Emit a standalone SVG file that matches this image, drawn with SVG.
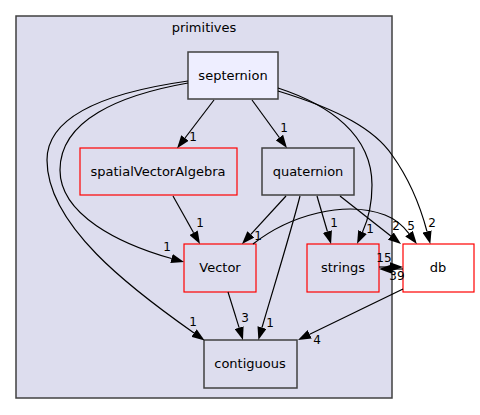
<svg xmlns="http://www.w3.org/2000/svg" width="480" height="415" viewBox="0 0 480 415">
<style>
text{font-family:"DejaVu Sans","Liberation Sans",sans-serif;fill:#000}
.n{font-size:13px;text-anchor:middle}
.l{font-size:12px;text-anchor:middle}
.e{fill:none;stroke:#000;stroke-width:1.2}
.g{fill:#ddddee;stroke:#404040;stroke-width:1.5}
.r{fill:#ddddee;stroke:#ff0000;stroke-width:1.2}
</style>
<defs>
<marker id="a" viewBox="0 0 13 9.4" markerWidth="13" markerHeight="9.4" refX="0" refY="4.7" orient="auto" markerUnits="userSpaceOnUse">
<path d="M0,0 L13,4.7 L0,9.4 z" fill="#000"/>
</marker>
</defs>
<g id="cluster_primitives">
<rect x="16" y="16" width="376" height="382" fill="#ddddee" stroke="#404040" stroke-width="1.5"/>
<text class="n" x="204" y="32">primitives</text>
</g>
<g id="septernion">
<rect x="188" y="52" width="90" height="47" fill="#eeeeff" stroke="#404040" stroke-width="1.5"/>
<text class="n" x="233" y="80">septernion</text>
</g>
<g id="spatialVectorAlgebra">
<rect class="r" x="80" y="148" width="157" height="47"/>
<text class="n" x="158" y="176">spatialVectorAlgebra</text>
</g>
<g id="quaternion">
<rect class="g" x="262" y="148" width="92" height="47"/>
<text class="n" x="308" y="176">quaternion</text>
</g>
<g id="Vector">
<rect class="r" x="184" y="244" width="72" height="48"/>
<text class="n" x="220" y="272">Vector</text>
</g>
<g id="strings">
<rect class="r" x="307" y="244" width="72" height="48"/>
<text class="n" x="343" y="272">strings</text>
</g>
<g id="db">
<rect x="403" y="244" width="71" height="48" fill="#ffffff" stroke="#ff0000" stroke-width="1.2"/>
<text class="n" x="438" y="272">db</text>
</g>
<g id="contiguous">
<rect class="g" x="204" y="340" width="93" height="48"/>
<text class="n" x="250" y="368">contiguous</text>
</g>
<g id="edges">
<path class="e" marker-end="url(#a)" d="M214,100 L185,138"/>
<text class="l" x="193" y="141">1</text>
<path class="e" marker-end="url(#a)" d="M252,100 L279.3,137.5"/>
<text class="l" x="284" y="132">1</text>
<path class="e" marker-end="url(#a)" d="M188,83 C120,95 60,120 60,170 C60,215 120,244 171.5,258.5"/>
<text class="l" x="167" y="251">1</text>
<path class="e" marker-end="url(#a)" d="M188,81 C110,92 47,115 47,160 C47,225 130,288 194,333"/>
<text class="l" x="193" y="326">1</text>
<path class="e" marker-end="url(#a)" d="M278,88 C330,105 372,135 372,185 C372,205 368,220 362.5,232"/>
<text class="l" x="370" y="233">1</text>
<path class="e" marker-end="url(#a)" d="M278,91 C340,110 375,130 392,155 C410,180 420,205 427,231.5"/>
<text class="l" x="432" y="227">2</text>
<path class="e" marker-end="url(#a)" d="M173,196 L193.6,232.7"/>
<text class="l" x="200" y="227">1</text>
<path class="e" marker-end="url(#a)" d="M286,196 L250.8,234.4"/>
<text class="l" x="258" y="240">1</text>
<path class="e" marker-end="url(#a)" d="M300,196 C290,235 275,283 262,327.5"/>
<text class="l" x="270" y="327">1</text>
<path class="e" marker-end="url(#a)" d="M317,196 L327.4,231.5"/>
<text class="l" x="334" y="227">1</text>
<path class="e" marker-end="url(#a)" d="M340,196 L390.8,236"/>
<text class="l" x="396" y="230">2</text>
<path class="e" marker-end="url(#a)" d="M253,244 C290,215 345,200 385,215 C398,220 404,227 409,233.6"/>
<text class="l" x="411" y="230">5</text>
<path class="e" marker-end="url(#a)" d="M379,267 L390,267"/>
<text class="l" x="384" y="262">15</text>
<path class="e" marker-end="url(#a)" d="M403,269 L392,269"/>
<text class="l" x="397" y="280">39</text>
<path class="e" marker-end="url(#a)" d="M228,292 L239.1,327.6"/>
<text class="l" x="245" y="322">3</text>
<path class="e" marker-end="url(#a)" d="M403,289 L309.7,334.3"/>
<text class="l" x="317" y="344">4</text>
</g>
</svg>
